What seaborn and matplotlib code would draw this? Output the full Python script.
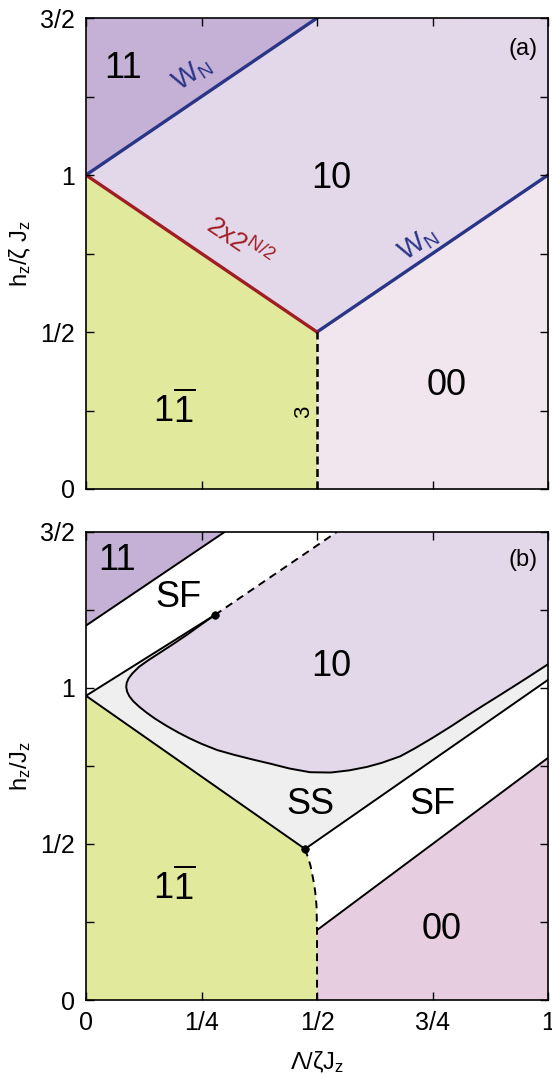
import numpy as np
import matplotlib
matplotlib.use("Agg")
import matplotlib.pyplot as plt
import seaborn as sns

sns.set_style("ticks")
plt.rcParams['font.family'] = ['Liberation Sans', 'DejaVu Sans']
plt.rcParams['mathtext.fontset'] = 'custom'
plt.rcParams['mathtext.rm'] = 'Liberation Sans'
plt.rcParams['mathtext.it'] = 'Liberation Sans:italic'
plt.rcParams['mathtext.default'] = 'regular'
plt.rcParams['text.color'] = 'black'
plt.rcParams['axes.labelcolor'] = 'black'

# colours
c11 = '#c5b1d6'
c10 = '#e3d7ea'
c1b = '#e1e99c'
c00_a = '#f2e6ee'
c00_b = '#e6cde0'
css = '#efefef'
blue = '#2a3588'
red = '#a11d24'

# ---- panel (a) boundaries ----
wn_up_x = [0.0, 0.5]
wn_up_y = [1.0, 1.5]
wn_lo_x = [0.5, 1.0]
wn_lo_y = [0.5, 1.0]
red_x = [0.0, 0.5]
red_y = [1.0, 0.5]
dash_a_x = [0.5, 0.5]
dash_a_y = [0.0, 0.5]

# ---- panel (b) boundaries ----
l11_x = [0.0, 0.3]
l11_y = [1.2, 1.5]
sf_up_x = [0.0, 0.279]
sf_up_y = [0.975, 1.234]
sf_dash_x = [0.279, 0.543]
sf_dash_y = [1.234, 1.5]
ten_x = [0.279, 0.25, 0.22, 0.19, 0.16, 0.134, 0.115, 0.100, 0.092, 0.088, 0.087,
         0.089, 0.094, 0.102, 0.115, 0.132, 0.150, 0.175, 0.200, 0.225, 0.250,
         0.284, 0.320, 0.360, 0.400, 0.440, 0.485, 0.530, 0.570, 0.608, 0.640,
         0.680, 0.710, 0.750, 0.790, 0.825, 0.860, 0.900, 0.950, 1.0]
ten_y = [1.234, 1.204, 1.172, 1.142, 1.113, 1.088, 1.068, 1.046, 1.030, 1.016, 1.003,
         0.988, 0.973, 0.958, 0.940, 0.920, 0.901, 0.878, 0.857, 0.838, 0.821,
         0.801, 0.786, 0.771, 0.757, 0.742, 0.730, 0.729, 0.736, 0.747, 0.760,
         0.781, 0.805, 0.840, 0.877, 0.911, 0.944, 0.981, 1.028, 1.076]
ss_l_x = [0.0, 0.474]
ss_l_y = [0.975, 0.484]
ss_r_x = [0.474, 1.0]
ss_r_y = [0.484, 1.026]
dcurve_x = [0.474, 0.481, 0.486, 0.490, 0.494, 0.497, 0.499, 0.5, 0.5]
dcurve_y = [0.484, 0.455, 0.430, 0.400, 0.370, 0.335, 0.300, 0.224, 0.0]
l00_x = [0.5, 1.0]
l00_y = [0.224, 0.776]
dots_x = [0.279, 0.474]
dots_y = [1.234, 0.484]

xt = [0, 0.25, 0.5, 0.75, 1]
xtl = ['0', '1/4', '1/2', '3/4', '1']
yt = [0, 0.5, 1, 1.5]
ytl = ['0', '1/2', '1', '3/2']

fig = plt.figure(figsize=(5.52, 10.74), dpi=100)
axa = fig.add_axes([0.1558, 0.5447, 0.837, 0.4385])
axb = fig.add_axes([0.1558, 0.0689, 0.837, 0.4358])

# panel (a) fills
axa.fill_between(wn_up_x, wn_up_y, 1.5, color=c11, lw=0)
axa.fill(wn_up_x + [1.0] + wn_lo_x[::-1] + red_x[::-1],
         wn_up_y + [1.5] + wn_lo_y[::-1] + red_y[::-1], color=c10, lw=0)
axa.fill([0.0] + red_x + [0.5], [0.0] + red_y + [0.0], color=c1b, lw=0)
axa.fill(wn_lo_x + [1.0, 0.5], wn_lo_y + [0.0, 0.0], color=c00_a, lw=0)
sns.lineplot(x=wn_up_x, y=wn_up_y, ax=axa, color=blue, lw=2.4)
sns.lineplot(x=wn_lo_x, y=wn_lo_y, ax=axa, color=blue, lw=2.4)
sns.lineplot(x=red_x, y=red_y, ax=axa, color=red, lw=2.4)
axa.plot(dash_a_x, dash_a_y, color='black', lw=1.8, ls=(0, (3.2, 1.8)))

fs = 26
axa.text(0.08, 1.34, '11', fontsize=fs, ha='center', va='center')
axa.text(0.53, 0.99, '10', fontsize=fs, ha='center', va='center')
axa.text(0.19, 0.25, r'1$\overline{1}$', fontsize=fs, ha='center', va='center')
axa.text(0.78, 0.33, '00', fontsize=fs, ha='center', va='center')
axa.text(0.945, 1.40, '(a)', fontsize=17, ha='center', va='center')
axa.text(0.23, 1.32, r'W$_N$', fontsize=20, color=blue, rotation=34,
         ha='center', va='center')
axa.text(0.72, 0.78, r'W$_N$', fontsize=20, color=blue, rotation=34,
         ha='center', va='center')
axa.text(0.33, 0.785, r'2x2$^{N/2}$', fontsize=19, color=red, rotation=-34,
         ha='center', va='center')
axa.text(0.470, 0.245, '3', fontsize=16, rotation=90, ha='center', va='center')

# panel (b) fills
axb.fill_between(l11_x, l11_y, 1.5, color=c11, lw=0)
axb.fill(ten_x + [1.0] + sf_dash_x[::-1], ten_y + [1.5] + sf_dash_y[::-1],
         color=c10, lw=0)
axb.fill(sf_up_x + ten_x + ss_r_x[::-1] + ss_l_x[::-1],
         sf_up_y + ten_y + ss_r_y[::-1] + ss_l_y[::-1], color=css, lw=0)
axb.fill([0.0] + ss_l_x + dcurve_x, [0.0] + ss_l_y + dcurve_y, color=c1b, lw=0)
axb.fill(l00_x + [1.0, 0.5], l00_y + [0.0, 0.0], color=c00_b, lw=0)

for lx, ly in [(l11_x, l11_y), (sf_up_x, sf_up_y), (ten_x, ten_y),
               (ss_l_x, ss_l_y), (ss_r_x, ss_r_y), (l00_x, l00_y)]:
    axb.plot(lx, ly, color='black', lw=1.4, solid_joinstyle='round')
axb.plot(sf_dash_x, sf_dash_y, color='black', lw=1.4, ls=(0, (4, 2.8)))
axb.plot(dcurve_x, dcurve_y, color='black', lw=1.4, ls=(0, (4, 2.8)))
sns.scatterplot(x=dots_x, y=dots_y, ax=axb, color='black', s=30, zorder=5,
                edgecolor='black')

axb.text(0.067, 1.41, '11', fontsize=fs, ha='center', va='center')
axb.text(0.20, 1.29, 'SF', fontsize=fs, ha='center', va='center')
axb.text(0.53, 1.07, '10', fontsize=fs, ha='center', va='center')
axb.text(0.485, 0.625, 'SS', fontsize=fs, ha='center', va='center')
axb.text(0.75, 0.625, 'SF', fontsize=fs, ha='center', va='center')
axb.text(0.19, 0.36, r'1$\overline{1}$', fontsize=fs, ha='center', va='center')
axb.text(0.77, 0.225, '00', fontsize=fs, ha='center', va='center')
axb.text(0.945, 1.41, '(b)', fontsize=17, ha='center', va='center')

for ax in (axa, axb):
    ax.set_axisbelow(False)
    ax.set_xlim(0, 1)
    ax.set_ylim(0, 1.5)
    ax.set_xticks(xt, xtl)
    ax.set_yticks(yt, ytl)
    ax.set_yticks([0.25, 0.75, 1.25], minor=True)
    ax.tick_params(which='both', direction='in', top=True, right=True,
                   length=6, width=1, labelsize=18, pad=8, colors='black')
    for s in ax.spines.values():
        s.set_linewidth(1.2)
        s.set_color('black')
        s.set_zorder(10)
axa.tick_params(labelbottom=False)

axa.set_ylabel(r'h$_z$/ζ J$_z$', fontsize=17, labelpad=5)
axb.set_ylabel(r'h$_z$/J$_z$', fontsize=17, labelpad=5)
axb.set_xlabel(r'$\mathit{Λ}$/ζJ$_z$', fontsize=17, labelpad=10)

fig.savefig('out.png', dpi=100)
